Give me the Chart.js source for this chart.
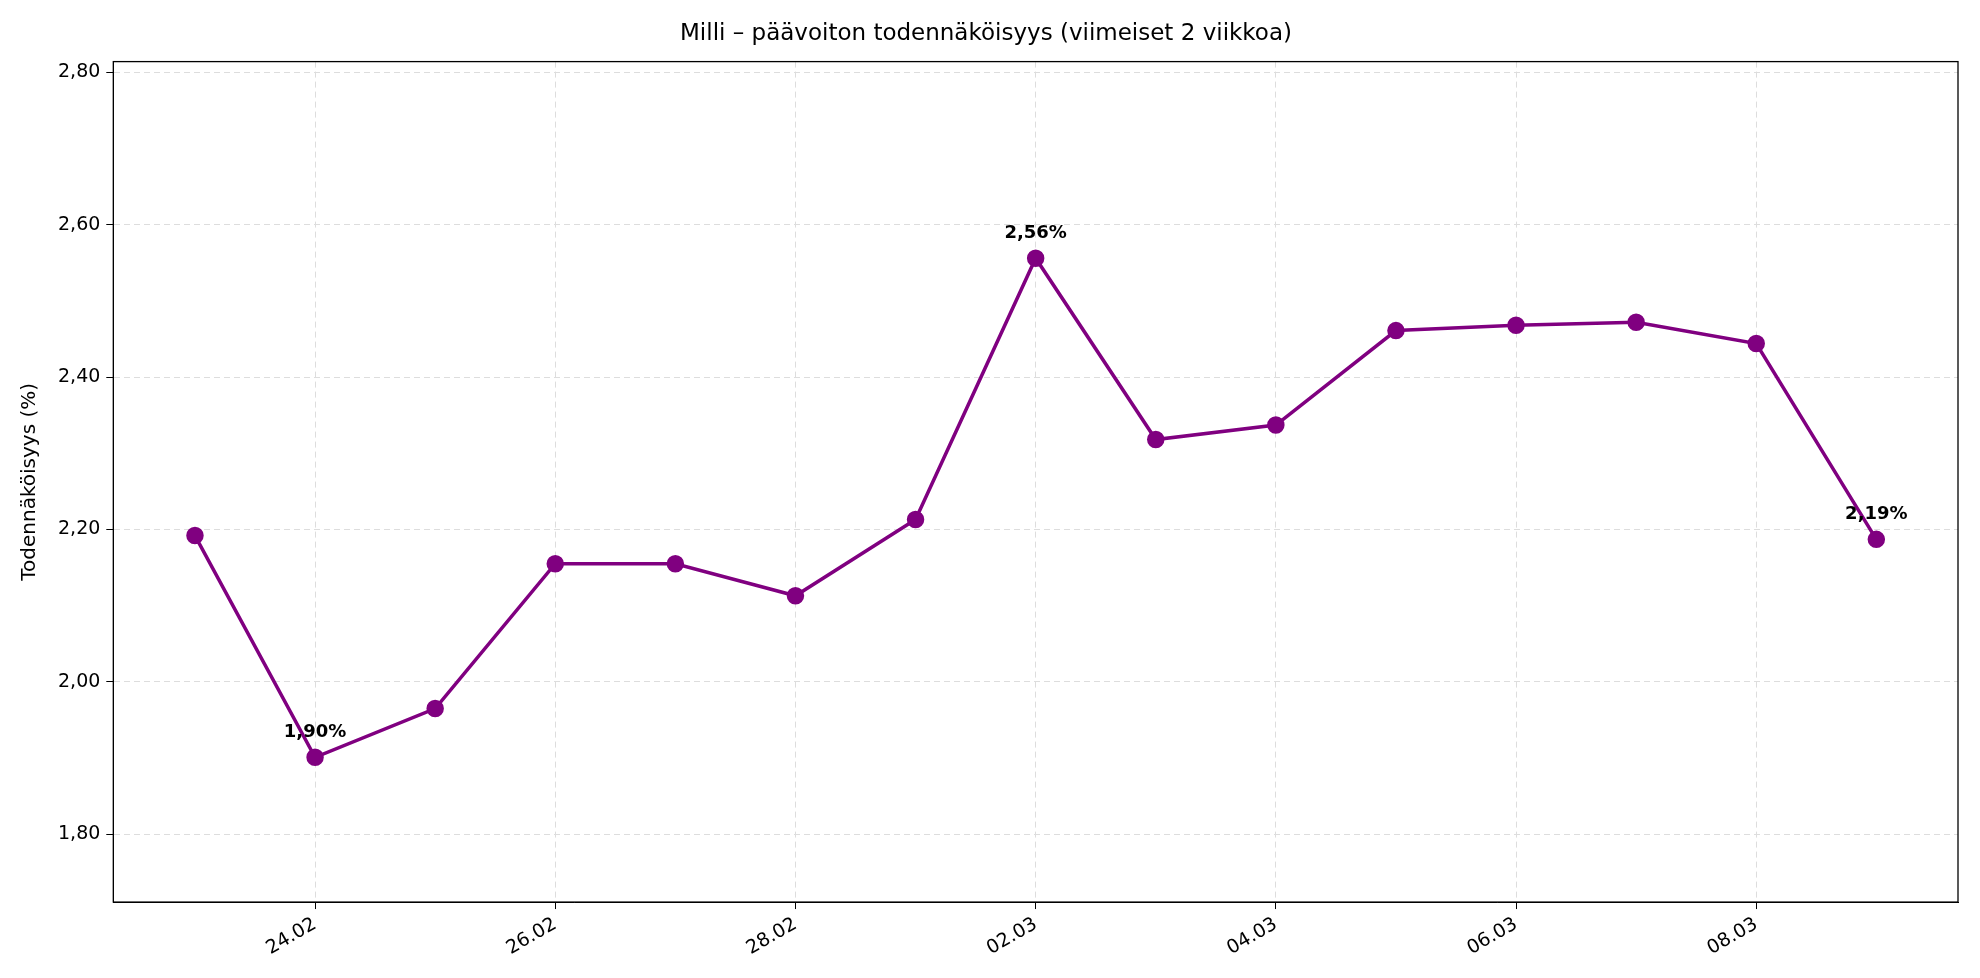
<!DOCTYPE html>
<html><head><meta charset="utf-8">
<script src="https://cdn.jsdelivr.net/npm/chart.js@4"></script>
<style>body{margin:0;background:#fff}</style>
</head><body>
<canvas id="c" width="1980" height="978"></canvas>
<script>
const dates=["23.02","24.02","25.02","26.02","27.02","28.02","01.03","02.03","03.03","04.03","05.03","06.03","07.03","08.03","09.03"];
const values=[2.192,1.901,1.965,2.155,2.155,2.113,2.213,2.556,2.318,2.337,2.461,2.468,2.472,2.444,2.187];
const tickIdx=[1,3,5,7,9,11,13];
const annotated=[1,7,14];
const F="'DejaVu Sans', sans-serif";
const fmt=v=>v.toFixed(2).replace('.',',');
const pts=values.map((v,i)=>({x:i,y:v}));
const extras={id:'extras',afterDatasetsDraw(ch){
 const c=ch.ctx,a=ch.chartArea,xs=ch.scales.x,ys=ch.scales.y;
 c.save();c.strokeStyle='#000';c.lineWidth=1.3;c.strokeRect(a.left,a.top,a.right-a.left,a.bottom-a.top);
 c.fillStyle='#000';c.font="bold 18px "+F;c.textAlign='center';c.textBaseline='bottom';
 annotated.forEach(i=>{c.fillText(fmt(values[i])+'%',xs.getPixelForValue(i),ys.getPixelForValue(values[i])-16);});
 c.restore();}};
new Chart(document.getElementById('c'),{type:'line',
 data:{datasets:[{data:pts,borderColor:'#800080',backgroundColor:'#800080',borderWidth:3.5,pointRadius:7,pointHoverRadius:7,tension:0}]},
 options:{responsive:false,animation:false,devicePixelRatio:1,
  layout:{padding:{left:14,right:22,top:4,bottom:14}},
  plugins:{legend:{display:false},tooltip:{enabled:false},
   title:{display:true,text:'Milli – päävoiton todennäköisyys (viimeiset 2 viikkoa)',font:{family:F,size:23,weight:'normal'},color:'#000',padding:{top:16,bottom:14}}},
  scales:{
   x:{type:'linear',min:-0.68,max:14.68,
    afterBuildTicks(s){s.ticks=tickIdx.map(v=>({value:v}));},
    ticks:{callback:v=>dates[v]??'',maxRotation:30,minRotation:30,color:'#000',font:{family:F,size:19},autoSkip:false,padding:4},
    grid:{color:'#dddddd',tickColor:'#000',tickLength:7},border:{display:true,dash:[6,4],color:'#000'}},
   y:{min:1.711,max:2.814,
    afterBuildTicks(s){s.ticks=[1.8,2.0,2.2,2.4,2.6,2.8].map(v=>({value:v}));},
    ticks:{callback:v=>fmt(v),color:'#000',font:{family:F,size:19},padding:6},
    title:{display:true,text:'Todennäköisyys (%)',color:'#000',font:{family:F,size:20},padding:{bottom:10}},
    grid:{color:'#dddddd',tickColor:'#000',tickLength:7},border:{display:true,dash:[6,4],color:'#000'}}
  }},
 plugins:[extras]});
</script></body></html>
